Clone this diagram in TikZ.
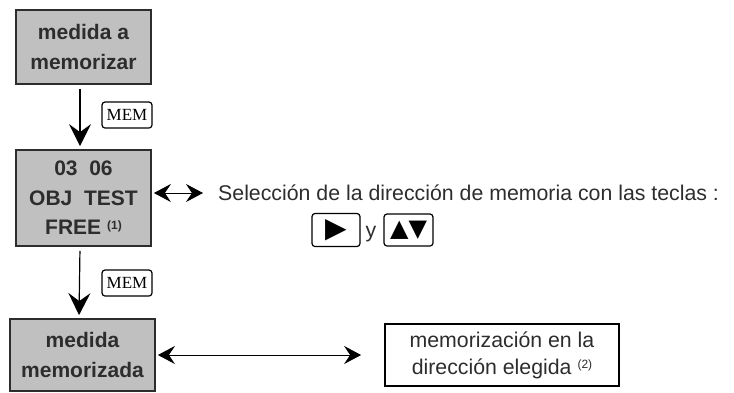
\documentclass[tikz,border=0pt]{standalone}
\usepackage{fontspec}
\setmainfont{Liberation Sans}
\newfontfamily\keyfont{Liberation Serif}
\newfontfamily\symfont{DejaVu Sans}
\usepackage{xcolor}
\usetikzlibrary{arrows.meta, positioning, calc}
\definecolor{boxgray}{RGB}{192,192,192}
\definecolor{inkgray}{RGB}{45,45,45}

\begin{document}
\begin{tikzpicture}[
    x=1pt, y=-1pt,
    stage/.style={draw=inkgray, line width=1.8pt, fill=boxgray, text=inkgray, font=\fontsize{21}{29.5}\selectfont\bfseries, align=center, inner sep=0pt},
    key/.style={draw, rounded corners=3pt, line width=1.2pt, inner sep=0pt},
    note/.style={font=\fontsize{21.3}{27}\selectfont, text=inkgray, align=left, inner sep=0pt},
    arr/.style={-{Stealth[length=22pt, width=22pt, inset=8pt]}, line width=1.6pt},
    darr/.style={{Stealth[length=17pt, width=18pt, inset=6pt]}-{Stealth[length=17pt, width=18pt, inset=6pt]}, line width=0.8pt},
]
\useasboundingbox (0,0) rectangle (734,392);

% stages
\node[stage, minimum width=135pt, minimum height=74pt] (toMem) at (83.5,47) {medida a\\memorizar};
\node[stage, minimum width=135pt, minimum height=96pt] (addr) at (83.5,198) {03\ \ 06\\OBJ\ \ TEST\\FREE {\fontsize{12}{12}\selectfont\raisebox{5.5pt}{(1)}}};
\node[stage, minimum width=145pt, minimum height=72pt] (memd) at (82.5,355) {medida\\memorizada};

% MEM keys
\node[key, minimum width=50pt, minimum height=26pt, font=\keyfont\fontsize{17}{17}\selectfont] (mem1) at (127,115) {MEM};
\node[key, minimum width=50pt, minimum height=26pt, font=\keyfont\fontsize{17}{17}\selectfont] (mem2) at (127,283) {MEM};

% selection text and keys
\node[note, anchor=west] (sel) at (218,193) {Selección de la dirección de memoria con las teclas :};
\node[key, minimum width=48pt, minimum height=33pt, font=\symfont\fontsize{28}{28}\selectfont] (keyR) at (336,230) {▶};
\node[note] (yy) at (371,234) {y};
\node[key, minimum width=49pt, minimum height=32pt, font=\symfont\fontsize{24}{24}\selectfont] (keyUD) at (408.5,230) {▲▼};

% destination
\node[draw, line width=1.8pt, minimum width=234pt, minimum height=62pt, note, align=center] (dest) at (502,355) {memorización en la\\dirección elegida {\fontsize{12}{12}\selectfont\raisebox{5.5pt}{(2)}}};

\draw[arr, shorten <=4pt, shorten >=3pt] ([xshift=-3.5pt]toMem.south) -- ([xshift=-3.5pt]addr.north);
\draw[arr, line width=1.2pt, shorten <=4pt, shorten >=3pt] ([xshift=-3.5pt]addr.south) -- ([xshift=-3.5pt]memd.north);
\draw[darr, shorten <=2pt, shorten >=15pt] ([yshift=5pt]addr.east) -- (sel.west);
\draw[darr, shorten <=2pt, shorten >=23pt] (memd.east) -- (dest.west);
\end{tikzpicture}
\end{document}
